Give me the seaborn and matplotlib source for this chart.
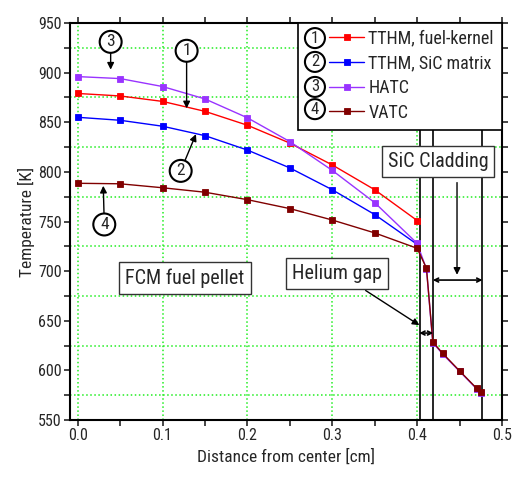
import matplotlib
matplotlib.use("Agg")
import matplotlib.pyplot as plt
from matplotlib.ticker import MultipleLocator
from matplotlib.patches import Rectangle
import seaborn as sns

# ---- data ----
x_fuel = [0.0, 0.05, 0.10, 0.15, 0.20, 0.25, 0.30, 0.35, 0.40]
x_full = [0.0, 0.05, 0.10, 0.15, 0.20, 0.25, 0.30, 0.35, 0.40,
          0.411, 0.4185, 0.43, 0.45, 0.47, 0.475]

tthm_kernel = [879, 876.5, 871, 861, 847, 829, 807, 782, 751]
tthm_matrix = [855, 852, 846, 836.5, 822, 804, 782, 757, 727]
hatc = [896, 894, 886, 873.5, 854.5, 830.5, 801.5, 769, 728,
        702, 628, 616.5, 599, 581.5, 577.5]
vatc = [788.5, 788, 784, 779.5, 772, 763, 751.5, 738.5, 723,
        703, 628.5, 617.3, 599.5, 582, 578]

labels = ["TTHM, fuel-kernel", "TTHM, SiC matrix", "HATC", "VATC"]
numbers = ["1", "2", "3", "4"]
colors = ["#ff0000", "#0000ff", "#9933ff", "#800000"]

region_bounds = [0.403, 0.4185, 0.477]

sns.set_style("ticks")
plt.rcParams['font.family'] = ['Roboto Condensed', 'PT Sans Narrow', 'DejaVu Sans']

fig = plt.figure(figsize=(5.12, 4.8), dpi=100)
ax = fig.add_axes([70/512, 60/480, 432/512, 397/480])

series = [(x_fuel, tthm_kernel), (x_fuel, tthm_matrix), (x_full, hatc), (x_full, vatc)]
handles = []
for (xs, ys), lab, c in zip(series, labels, colors):
    sns.lineplot(x=xs, y=ys, ax=ax, color=c, marker='s', markersize=4.2,
                 markeredgewidth=0.6, markeredgecolor=c, linewidth=1.0, label=lab,
                 sort=False, legend=False)
    handles.append(ax.lines[-1])

ax.set_xlim(-0.009, 0.5)
ax.set_ylim(550, 950)
ax.xaxis.set_major_locator(MultipleLocator(0.1))
ax.xaxis.set_minor_locator(MultipleLocator(0.05))
ax.yaxis.set_major_locator(MultipleLocator(50))
ax.yaxis.set_minor_locator(MultipleLocator(25))
ax.set_xticks([0.0, 0.1, 0.2, 0.3, 0.4, 0.5])
ax.set_xticklabels(["0.0", "0.1", "0.2", "0.3", "0.4", "0.5"])

ax.xaxis.grid(True, which='major', color='#22ee22', linestyle=':', linewidth=1.1)
ax.yaxis.grid(True, which='minor', color='#22ee22', linestyle=':', linewidth=1.1)
ax.yaxis.grid(False, which='major')
ax.xaxis.grid(False, which='minor')
ax.set_axisbelow(True)

ax.tick_params(which='both', direction='out', top=True, right=True, labelsize=11.5,
               width=1.2, length=4, pad=2)
for s in ax.spines.values():
    s.set_linewidth(1.5)
    s.set_color('black')

ax.set_xlabel("Distance from center [cm]", fontsize=12.5, labelpad=4)
ax.set_ylabel("Temperature [K]", fontsize=12.5, labelpad=2)

for b in region_bounds:
    ax.axvline(b, color='black', linewidth=1.2, zorder=1.5)

box_kw = dict(boxstyle='square,pad=0.3', fc='white', ec='#333333', lw=1.0)
ax.text(0.1264, 693, "FCM fuel pellet", fontsize=14.5, ha='center', va='center', bbox=box_kw, zorder=5)
ax.text(0.3058, 698, "Helium gap", fontsize=14.5, ha='center', va='center', bbox=box_kw, zorder=5)
ax.text(0.4246, 810, "SiC Cladding", fontsize=14.5, ha='center', va='center', bbox=box_kw, zorder=5)

arr = dict(arrowstyle='-|>', color='black', lw=1.0, mutation_scale=10)
dbl = dict(arrowstyle='<->', color='black', lw=1.2, mutation_scale=7, shrinkA=0, shrinkB=0)
ax.annotate("", xy=(0.4054, 644), xytext=(0.3366, 682), arrowprops=arr)
ax.annotate("", xy=(0.4025, 637.6), xytext=(0.419, 637.6), arrowprops=dbl)
ax.annotate("", xy=(0.447, 693.5), xytext=(0.447, 792), arrowprops=arr)
ax.annotate("", xy=(0.4185, 691), xytext=(0.477, 691), arrowprops=dbl)

circ = dict(boxstyle='circle,pad=0.2', fc='white', ec='black', lw=1.5)
callouts = [("3", (0.0389, 931), (0.0389, 903)),
            ("1", (0.1284, 922), (0.1284, 864)),
            ("2", (0.1214, 801), (0.1394, 838)),
            ("4", (0.0314, 747), (0.0302, 786))]
for num, (tx, ty), (hx, hy) in callouts:
    ax.annotate(num, xy=(hx, hy), xytext=(tx, ty), fontsize=12.5, ha='center', va='center',
                bbox=circ, arrowprops=dict(arrowstyle='-|>', color='black', lw=1.0,
                                           mutation_scale=10, shrinkA=0, shrinkB=0), zorder=6)

# legend
frame = Rectangle((0.5278, 0.7305), 0.4722, 0.2695, transform=ax.transAxes,
                  fc='white', ec='black', lw=1.2, zorder=8)
ax.add_patch(frame)
leg = ax.legend(handles, labels, loc='upper left', bbox_to_anchor=((326.7-70)/432, 0.99),
                frameon=False, fontsize=13, handlelength=1.9, handletextpad=0.25,
                labelspacing=0.37, borderpad=0.15, borderaxespad=0.0)
leg.set_zorder(9)
rows_y = [0.962, 0.902, 0.839, 0.783]
circ2 = dict(boxstyle='circle,pad=0.15', fc='white', ec='black', lw=1.5)
for num, yy in zip(numbers, rows_y):
    ax.text(0.567, yy, num, transform=ax.transAxes, fontsize=12, ha='center', va='center',
            bbox=circ2, zorder=10)

fig.savefig("out.png", dpi=100)
